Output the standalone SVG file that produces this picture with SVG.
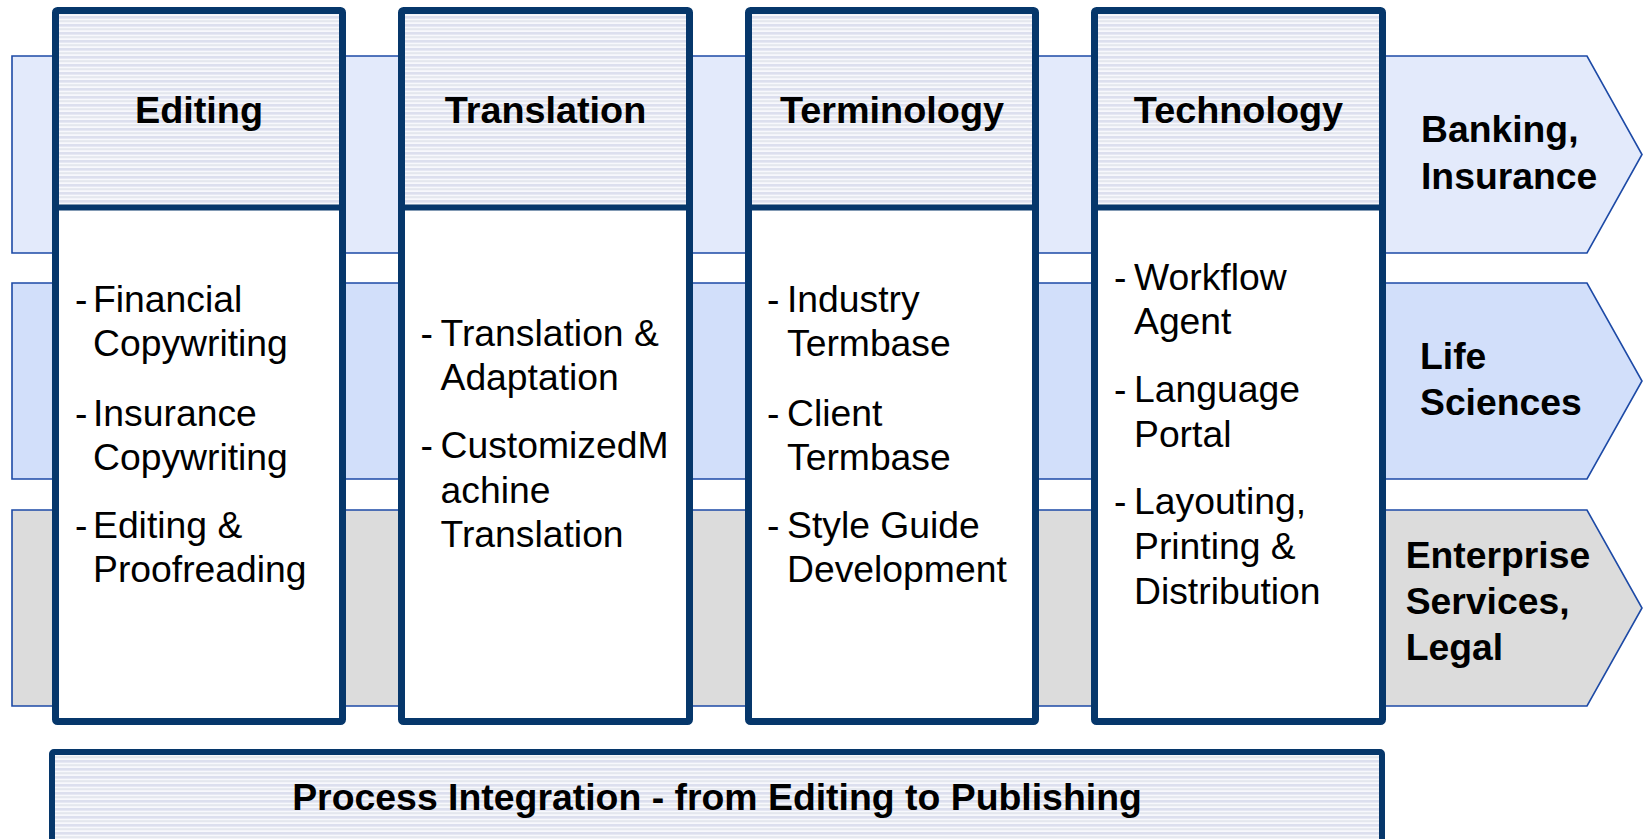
<svg xmlns="http://www.w3.org/2000/svg" width="1643" height="839" viewBox="0 0 1643 839">
  <defs>
    <!-- fine horizontal ruling used in the header cells -->
    <pattern id="ruled" patternUnits="userSpaceOnUse" x="0" y="0" width="16" height="8">
      <rect width="16" height="8" fill="#f7f8fc"/>
      <rect y="0" width="16" height="2.6" fill="#dcdfee"/>
      <rect y="4.2" width="16" height="2" fill="#e4e7ee"/>
    </pattern>
  </defs>
  <style>
    .band { stroke: #1d4aa6; stroke-width: 1.6; }
    .b1 { fill: #e3eafb; }
    .b2 { fill: #d2dffa; }
    .b3 { fill: #dcdcdc; }
    .col { fill: #ffffff; stroke: #06376b; stroke-width: 7; }
    .head { fill: url(#ruled); }
    .div { stroke: #06376b; stroke-width: 6; }
    .bar { fill: url(#ruled); stroke: #06376b; stroke-width: 6; }
    .h { font-family: "Liberation Sans", Arial, sans-serif; font-weight: bold; font-size: 37.8px; fill: #000; text-anchor: middle; }
    .pb { font-size: 37.4px; }
    .lbl { font-family: "Liberation Sans", Arial, sans-serif; font-weight: bold; font-size: 37.3px; fill: #000; }
    .t { font-family: "Liberation Sans", Arial, sans-serif; font-size: 37.3px; fill: #000; }
  </style>

  <!-- industry bands (arrows pointing right) -->
  <g id="bands">
    <g id="band-banking">
      <polygon class="band b1" points="12,56 1587,56 1642,154.5 1587,253 12,253"/>
      <text class="lbl" x="1421" y="142.3">Banking,</text>
      <text class="lbl" x="1421" y="189.3">Insurance</text>
    </g>
    <g id="band-life">
      <polygon class="band b2" points="12,283 1587,283 1642,381 1587,479 12,479"/>
      <text class="lbl" x="1420" y="368.6">Life</text>
      <text class="lbl" x="1420" y="414.7">Sciences</text>
    </g>
    <g id="band-enterprise">
      <polygon class="band b3" points="12,510 1587,510 1642,608 1587,706 12,706"/>
      <text class="lbl" x="1405.7" y="568.3">Enterprise</text>
      <text class="lbl" x="1405.7" y="613.8">Services,</text>
      <text class="lbl" x="1405.7" y="660">Legal</text>
    </g>
  </g>

  <!-- service columns -->
  <g id="col-editing">
    <rect class="col" x="55.5" y="10.5" width="287" height="711" rx="2"/>
    <rect class="head" x="59" y="14" width="280" height="190.5"/>
    <line class="div" x1="55.5" y1="207.5" x2="342.5" y2="207.5"/>
    <text class="h" x="199" y="122.5">Editing</text>
    <text class="t" x="75" y="312.3">-</text>
    <text class="t" x="93" y="312.3">Financial<tspan x="93" y="356">Copywriting</tspan></text>
    <text class="t" x="75" y="425.5">-</text>
    <text class="t" x="93" y="425.5">Insurance<tspan x="93" y="469.5">Copywriting</tspan></text>
    <text class="t" x="75" y="538">-</text>
    <text class="t" x="93" y="538">Editing &amp;<tspan x="93" y="582">Proofreading</tspan></text>
  </g>

  <g id="col-translation">
    <rect class="col" x="401.5" y="10.5" width="288" height="711" rx="2"/>
    <rect class="head" x="405" y="14" width="281" height="190.5"/>
    <line class="div" x1="401.5" y1="207.5" x2="689.5" y2="207.5"/>
    <text class="h" x="545.5" y="122.5">Translation</text>
    <text class="t" x="420.5" y="345.7">-</text>
    <text class="t" x="440.5" y="345.7">Translation &amp;<tspan x="440.5" y="390">Adaptation</tspan></text>
    <text class="t" x="420.5" y="458">-</text>
    <text class="t" x="440.5" y="458">CustomizedM<tspan x="440.5" y="502.5">achine</tspan><tspan x="440.5" y="546.7">Translation</tspan></text>
  </g>

  <g id="col-terminology">
    <rect class="col" x="748.5" y="10.5" width="287" height="711" rx="2"/>
    <rect class="head" x="752" y="14" width="280" height="190.5"/>
    <line class="div" x1="748.5" y1="207.5" x2="1035.5" y2="207.5"/>
    <text class="h" x="892" y="122.5">Terminology</text>
    <text class="t" x="767" y="312.3">-</text>
    <text class="t" x="787" y="312.3">Industry<tspan x="787" y="356">Termbase</tspan></text>
    <text class="t" x="767" y="425.5">-</text>
    <text class="t" x="787" y="425.5">Client<tspan x="787" y="469.5">Termbase</tspan></text>
    <text class="t" x="767" y="538">-</text>
    <text class="t" x="787" y="538">Style Guide<tspan x="787" y="582">Development</tspan></text>
  </g>

  <g id="col-technology">
    <rect class="col" x="1094.5" y="10.5" width="288" height="711" rx="2"/>
    <rect class="head" x="1098" y="14" width="281" height="190.5"/>
    <line class="div" x1="1094.5" y1="207.5" x2="1382.5" y2="207.5"/>
    <text class="h" x="1238.5" y="122.5">Technology</text>
    <text class="t" x="1114" y="289.5">-</text>
    <text class="t" x="1134" y="289.5">Workflow<tspan x="1134" y="334">Agent</tspan></text>
    <text class="t" x="1114" y="401.7">-</text>
    <text class="t" x="1134" y="401.7">Language<tspan x="1134" y="446.5">Portal</tspan></text>
    <text class="t" x="1114" y="514.3">-</text>
    <text class="t" x="1134" y="514.3">Layouting,<tspan x="1134" y="559">Printing &amp;</tspan><tspan x="1134" y="604">Distribution</tspan></text>
  </g>

  <!-- spanning process bar -->
  <g id="process-bar">
    <rect class="bar" x="52" y="752" width="1330" height="110" rx="2"/>
    <text class="h pb" x="717" y="810">Process Integration - from Editing to Publishing</text>
  </g>

  <g id="connectors"></g>
</svg>
